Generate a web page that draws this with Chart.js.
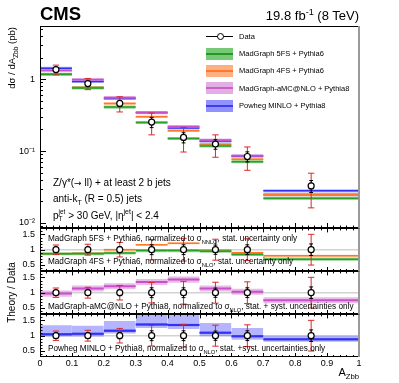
<!DOCTYPE html>
<html>
<head>
<meta charset="utf-8">
<script src="https://cdn.jsdelivr.net/npm/chart.js@4.4.1/dist/chart.umd.min.js"></script>
<style>
  body { margin: 0; background: #fff; }
  #wrap { position: relative; width: 399px; height: 383px; overflow: hidden;
          font-family: "Liberation Sans", Arial, sans-serif; color: #000; }
  canvas { position: absolute; left: 0; }
  .t { position: absolute; white-space: nowrap; line-height: 1; }
  .t sub, .t sup { font-size: 70%; line-height: 0; }
  .st { display: inline-block; vertical-align: -0.35em; font-size: 65%; line-height: 1.05; }
  .st span { display: block; }
  .sw { position: absolute; left: 206px; width: 27px; height: 12px; }
  .sw i { position: absolute; left: 0; right: 0; top: 5px; height: 2px; }
</style>
</head>
<body>
<div id="wrap">
  <canvas id="cMain" width="399" height="240" style="top:0px"></canvas>
  <canvas id="cR1" width="399" height="64" style="top:218px"></canvas>
  <canvas id="cR2" width="399" height="64" style="top:261px"></canvas>
  <canvas id="cR3" width="399" height="79" style="top:304px"></canvas>

  <div class="t" style="left:40px; top:5px; font-size:18.5px; font-weight:bold;">CMS</div>
  <div class="t" style="right:40px; top:9px; font-size:13px;">19.8 fb<sup>-1</sup> (8 TeV)</div>

  <!-- legend -->
  <div style="position:absolute; left:206px; top:36px; width:27px; height:1px; background:#000;"></div>
  <div style="position:absolute; left:217px; top:33px; width:5px; height:5px; border:1px solid #000; border-radius:50%; background:#fff;"></div>
  <div class="t" style="left:239px; top:33px; font-size:7.5px;">Data</div>
  <div class="sw" style="top:48px; background:rgba(60,180,60,0.7);"><i style="background:rgb(40,150,40);"></i></div>
  <div class="t" style="left:239px; top:50px; font-size:7.5px;">MadGraph 5FS + Pythia6</div>
  <div class="sw" style="top:65px; background:rgba(255,150,90,0.75);"><i style="background:rgb(255,120,50);"></i></div>
  <div class="t" style="left:239px; top:67px; font-size:7.5px;">MadGraph 4FS + Pythia6</div>
  <div class="sw" style="top:82px; background:rgba(215,140,215,0.7);"><i style="background:rgb(200,100,200);"></i></div>
  <div class="t" style="left:239px; top:85px; font-size:7.5px;">MadGraph-aMC@NLO + Pythia8</div>
  <div class="sw" style="top:100px; background:rgba(100,100,255,0.7);"><i style="background:rgb(60,60,240);"></i></div>
  <div class="t" style="left:239px; top:102px; font-size:7.5px;">Powheg MINLO + Pythia8</div>

  <!-- annotations -->
  <div class="t" style="left:53px; top:178px; font-size:10px;">Z/&gamma;*(<span style="font-family:'DejaVu Sans'; font-size:9px;">&rarr;</span> ll) + at least 2 b jets</div>
  <div class="t" style="left:53px; top:194px; font-size:10px;">anti-k<sub>T</sub> (R = 0.5) jets</div>
  <div class="t" style="left:53px; top:209px; font-size:10px;">p<span class="st"><span>jet</span><span>T</span></span> &gt; 30 GeV, |&eta;<sup>jet</sup>| &lt; 2.4</div>

  <div class="t" style="left:48px; top:235px; font-size:8.2px;">MadGraph 5FS + Pythia6, normalized to &sigma;<sub>NNLO</sub>, stat. uncertainty only</div>
  <div class="t" style="left:48px; top:258px; font-size:8.2px;">MadGraph 4FS + Pythia6, normalized to &sigma;<sub>NLO</sub>, stat. uncertainty only</div>
  <div class="t" style="left:48px; top:303px; font-size:8.2px;">MadGraph-aMC@NLO + Pythia8, normalized to &sigma;<sub>NLO</sub>, stat. + syst. uncertainties only</div>
  <div class="t" style="left:48px; top:345px; font-size:8.2px;">Powheg MINLO + Pythia8, normalized to &sigma;<sub>NLO</sub>, stat. +syst. uncertainties only</div>

  <!-- axis titles -->
  <div class="t" style="left:7px; top:177px; width:150px; text-align:right; font-size:9.5px; transform-origin:0 0; transform:rotate(-90deg);">d&sigma; / dA<sub>Zbb</sub> (pb)</div>
  <div class="t" style="left:7px; top:357px; width:129px; text-align:center; font-size:10px; transform-origin:0 0; transform:rotate(-90deg);">Theory / Data</div>
  <div class="t" style="right:40px; top:367px; font-size:11px;">A<sub>Zbb</sub></div>
</div>

<script>
// bins of A_Zbb
const binLo = [0, 0.1, 0.2, 0.3, 0.4, 0.5, 0.6, 0.7];
const binHi = [0.1, 0.2, 0.3, 0.4, 0.5, 0.6, 0.7, 1.0];

// measured cross section (pb), stat and total uncertainty
const dataXsec = [1.36, 0.87, 0.46, 0.253, 0.155, 0.125, 0.084, 0.0327];
const dataStat = [0.11, 0.07, 0.045, 0.041, 0.025, 0.019, 0.0135, 0.0062];
const dataTotal = [0.21, 0.155, 0.11, 0.085, 0.058, 0.043, 0.030, 0.0165];

// predictions in the top panel
const mg5fsXsec = [1.17, 0.757, 0.41, 0.25, 0.15, 0.118, 0.071, 0.022];
const mg4fsXsec = [1.17, 0.765, 0.46, 0.30, 0.192, 0.124, 0.077, 0.025];
const amcXsec = [1.32, 0.99, 0.555, 0.342, 0.22, 0.142, 0.086, 0.0245];
const powhegXsec = [1.42, 0.93, 0.54, 0.345, 0.21, 0.137, 0.085, 0.028];

// theory / data
const mg5fsRatio = [0.87, 0.87, 0.89, 0.97, 0.97, 0.95, 0.84, 0.69];
const mg4fsRatio = [0.87, 0.88, 1.0, 1.16, 1.21, 0.98, 0.90, 0.80];
const amcRatio = [0.97, 1.14, 1.21, 1.35, 1.43, 1.14, 1.03, 0.75];
const powhegRatio = [1.05, 1.06, 1.16, 1.37, 1.35, 1.10, 0.98, 0.88];
const powhegRatioLo = [0.97, 0.97, 1.07, 1.25, 1.22, 0.98, 0.87, 0.80];
const powhegRatioHi = [1.34, 1.33, 1.48, 1.75, 1.72, 1.42, 1.25, 1.00];

// tick labels
const mainTickVals = [0.01, 0.1, 1];
const mainTickLabels = ['10\u207B\u00B2', '10\u207B\u00B9', '1'];
const ratioTickVals = [0.5, 1, 1.5];
const ratioTickLabels = ['0.5', '1', '1.5'];
const xTickVals = [0, 0.1, 0.2, 0.3, 0.4, 0.5, 0.6, 0.7, 0.8, 0.9, 1];
const xTickLabels = ['0', '0.1', '0.2', '0.3', '0.4', '0.5', '0.6', '0.7', '0.8', '0.9', '1'];

const centers = binLo.map((lo, i) => (lo + binHi[i]) / 2);

const COL = {
  mg5: { line: 'rgb(40,160,40)', band: 'rgba(60,180,60,0.55)' },
  mg4: { line: 'rgb(255,120,40)', band: 'rgba(255,150,90,0.55)' },
  amc: { line: 'rgb(200,80,200)', band: 'rgba(210,120,210,0.5)' },
  pow: { line: 'rgb(50,50,240)', band: 'rgba(90,90,255,0.45)', inner: 'rgba(60,60,245,0.45)' }
};

function steps(vals) {
  const pts = [];
  vals.forEach((v, i) => {
    pts.push({ x: binLo[i], y: v }, { x: binHi[i], y: v }, { x: binHi[i], y: null });
  });
  return pts;
}

function band(lo, hi, color, order) {
  return [
    { data: steps(lo), borderWidth: 0, pointRadius: 0, fill: false, order: order },
    { data: steps(hi), borderWidth: 0, pointRadius: 0, fill: '-1', backgroundColor: color, order: order }
  ];
}

function histLine(vals, color, order, w) {
  return { data: steps(vals), borderColor: color, borderWidth: w || 1.5, pointRadius: 0, fill: false, order: order };
}

function errBars(lo, hi, cap, color, order) {
  const pts = [];
  centers.forEach((c, i) => {
    pts.push({ x: c, y: lo[i] }, { x: c, y: hi[i] }, { x: c, y: null },
      { x: c - cap, y: lo[i] }, { x: c + cap, y: lo[i] }, { x: c, y: null },
      { x: c - cap, y: hi[i] }, { x: c + cap, y: hi[i] }, { x: c, y: null });
  });
  return { data: pts, borderColor: color, borderWidth: 1, pointRadius: 0, fill: false, order: order };
}

function markers(vals) {
  return {
    data: centers.map((c, i) => ({ x: c, y: vals[i] })),
    showLine: false, pointRadius: 3, pointBorderWidth: 1.2,
    pointBorderColor: '#000', pointBackgroundColor: '#fff', order: 1
  };
}

function scaled(vals, f) { return vals.map(v => v * f); }

// inward ticks and frame, ROOT style
const frameTicks = {
  id: 'frameTicks',
  afterDraw(chart, args, opts) {
    const { ctx, chartArea: a, scales: { x, y } } = chart;
    ctx.save();
    ctx.strokeStyle = '#000';
    ctx.lineWidth = 1;
    ctx.beginPath();
    for (let i = 0; i <= 50; i++) {
      const px = Math.round(x.getPixelForValue(i * 0.02)) + 0.5;
      const len = i % 5 === 0 ? opts.xMajor : opts.xMajor / 2;
      ctx.moveTo(px, a.bottom); ctx.lineTo(px, a.bottom - len);
      if (opts.xTop) { ctx.moveTo(px, a.top); ctx.lineTo(px, a.top + len); }
    }
    opts.yMajorVals.forEach(v => {
      const py = Math.round(y.getPixelForValue(v)) + 0.5;
      ctx.moveTo(a.left, py); ctx.lineTo(a.left + opts.yMajor, py);
    });
    opts.yMinorVals.forEach(v => {
      const py = Math.round(y.getPixelForValue(v)) + 0.5;
      ctx.moveTo(a.left, py); ctx.lineTo(a.left + opts.yMajor / 2, py);
    });
    ctx.moveTo(a.left + 0.5, a.top); ctx.lineTo(a.left + 0.5, a.bottom);
    ctx.moveTo(a.left, Math.round(a.top) + 0.5); ctx.lineTo(a.right, Math.round(a.top) + 0.5);
    ctx.moveTo(a.left, Math.round(a.bottom) - 0.5); ctx.lineTo(a.right, Math.round(a.bottom) - 0.5);
    ctx.stroke();
    ctx.strokeStyle = '#9a9a9a';
    ctx.lineWidth = 2;
    ctx.beginPath();
    ctx.moveTo(a.right, a.top); ctx.lineTo(a.right, a.bottom);
    ctx.stroke();
    ctx.restore();
  }
};

function yScale(type, min, max, vals, labels) {
  return {
    type: type, min: min, max: max,
    afterFit: s => { s.width = 40; },
    afterBuildTicks: s => { s.ticks = vals.map(v => ({ value: v })); },
    ticks: { callback: (v, i) => labels[i], color: '#000', padding: 5, autoSkip: false,
             font: { family: 'Liberation Sans', size: 9 } },
    grid: { display: false, drawTicks: false },
    border: { display: false }
  };
}

function xScale(show) {
  const s = { type: 'linear', min: 0, max: 1, display: show };
  if (show) {
    s.afterFit = sc => { sc.height = 20; };
    s.afterBuildTicks = sc => { sc.ticks = xTickVals.map(v => ({ value: v })); };
    s.ticks = { callback: (v, i) => xTickLabels[i], color: '#000', padding: 1, autoSkip: false,
                maxRotation: 0, font: { family: 'Liberation Sans', size: 9 } };
    s.grid = { display: false, drawTicks: false };
    s.border = { display: false };
  }
  return s;
}

function makeChart(id, datasets, scales, padding, ticksOpts) {
  return new Chart(document.getElementById(id), {
    type: 'line',
    data: { datasets: datasets },
    options: {
      responsive: false, animation: false, devicePixelRatio: 1, events: [],
      layout: { padding: padding },
      scales: scales,
      plugins: { legend: { display: false }, tooltip: { enabled: false }, frameTicks: ticksOpts }
    },
    plugins: [frameTicks]
  });
}

// ---- top panel ----
const logMinor = [];
[0.001, 0.01, 0.1, 1].forEach(d => {
  for (let k = 2; k <= 9; k++) if (d * k > 0.0085 && d * k < 5.5) logMinor.push(d * k);
});

const models = [
  [powhegXsec, COL.pow, 0.05, 20],
  [amcXsec, COL.amc, 0.05, 19],
  [mg4fsXsec, COL.mg4, 0.04, 18],
  [mg5fsXsec, COL.mg5, 0.05, 17]
];
const mainSets = [];
models.forEach(([vals, col, rel, ord]) => {
  mainSets.push(...band(scaled(vals, 1 - rel), scaled(vals, 1 + rel), col.band, ord));
  mainSets.push(histLine(vals, col.line, ord - 0.5));
});
mainSets.push(errBars(dataXsec.map((v, i) => v - dataTotal[i]), dataXsec.map((v, i) => v + dataTotal[i]), 0.01, 'rgb(220,40,40)', 3));
mainSets.push(errBars(dataXsec.map((v, i) => v - dataStat[i]), dataXsec.map((v, i) => v + dataStat[i]), 0.006, '#000', 2));
mainSets.push(markers(dataXsec));

makeChart('cMain', mainSets,
  { x: xScale(false), y: yScale('logarithmic', 0.0085, 5.5, mainTickVals, mainTickLabels) },
  { top: 26, bottom: 12, left: 0, right: 40 },
  { xTop: false, xMajor: 5, yMajor: 6, yMajorVals: mainTickVals, yMinorVals: logMinor });

// ---- ratio panels ----
const ratioMinor = [0.4, 0.6, 0.7, 0.8, 0.9, 1.1, 1.2, 1.3, 1.4, 1.6];
const ones = dataXsec.map(() => 1);
function dataRatioSets() {
  return [
    { data: [{ x: 0, y: 1 }, { x: 1, y: 1 }], borderColor: '#d2d2d2', borderWidth: 1.5, pointRadius: 0, fill: false, order: 30 },
    errBars(dataXsec.map((v, i) => 1 - dataTotal[i] / v), dataXsec.map((v, i) => 1 + dataTotal[i] / v), 0.01, 'rgb(220,40,40)', 3),
    errBars(dataXsec.map((v, i) => 1 - dataStat[i] / v), dataXsec.map((v, i) => 1 + dataStat[i] / v), 0.006, '#000', 2),
    markers(ones)
  ];
}
const ratioTicksOpts = { xTop: true, xMajor: 4, yMajor: 5, yMajorVals: ratioTickVals, yMinorVals: ratioMinor };

const r1Sets = [
  ...band(mg4fsRatio.map(v => v - 0.03), mg4fsRatio.map(v => v + 0.03), COL.mg4.band, 18),
  histLine(mg4fsRatio, COL.mg4.line, 17.5),
  ...band(mg5fsRatio.map(v => v - 0.05), mg5fsRatio.map(v => v + 0.05), COL.mg5.band, 17),
  histLine(mg5fsRatio, COL.mg5.line, 16.5),
  ...dataRatioSets()
];
makeChart('cR1', r1Sets,
  { x: xScale(false), y: yScale('linear', 0.3, 1.7, ratioTickVals, ratioTickLabels) },
  { top: 10, bottom: 11, left: 0, right: 40 }, ratioTicksOpts);

const r2Sets = [
  ...band(amcRatio.map(v => v - 0.1), amcRatio.map(v => v + 0.1), COL.amc.band, 18),
  histLine(amcRatio, COL.amc.line, 17.5, 2),
  ...dataRatioSets()
];
makeChart('cR2', r2Sets,
  { x: xScale(false), y: yScale('linear', 0.3, 1.7, ratioTickVals, ratioTickLabels) },
  { top: 10, bottom: 11, left: 0, right: 40 }, ratioTicksOpts);

const r3Sets = [
  ...band(powhegRatioLo, powhegRatioHi, COL.pow.band, 19),
  ...band(powhegRatio.map(v => v - 0.04), powhegRatio.map(v => v + 0.04), COL.pow.inner, 18),
  histLine(powhegRatio, COL.pow.line, 17.5, 2),
  ...dataRatioSets()
];
makeChart('cR3', r3Sets,
  { x: xScale(true), y: yScale('linear', 0.3, 1.7, ratioTickVals, ratioTickLabels) },
  { top: 10, bottom: 6, left: 0, right: 40 }, ratioTicksOpts);
</script>
</body>
</html>
